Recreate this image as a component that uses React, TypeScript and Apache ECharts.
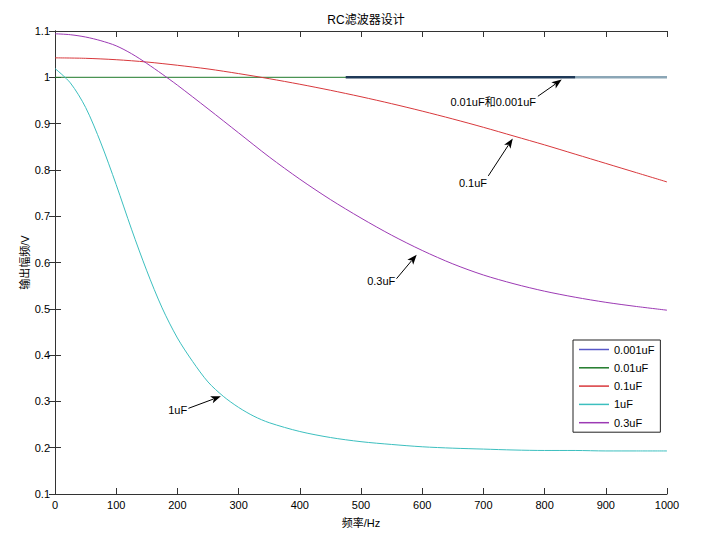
import React, { useEffect, useRef } from "react";
import * as echarts from "echarts";

const title = "RC滤波器设计";
const xName = "频率/Hz";
const yName = "输出幅频/V";

const seriesNames = ["0.001uF", "0.01uF", "0.1uF", "1uF", "0.3uF"];

// 0.1uF sampled every 50 Hz
const freqA = [0, 50, 100, 150, 200, 250, 300, 350, 400, 450, 500, 550, 600, 650, 700, 750, 800, 850, 900, 950, 1000];
const amp01uF = [1.042, 1.041, 1.038, 1.033, 1.026, 1.018, 1.008, 0.997, 0.985, 0.972, 0.958, 0.943, 0.927, 0.91, 0.892, 0.873, 0.854, 0.834, 0.814, 0.794, 0.774];

// 0.3uF
const freqC = [0, 25, 50, 75, 100, 125, 150, 175, 200, 250, 300, 350, 400, 450, 500, 550, 600, 650, 700, 750, 800, 850, 900, 950, 1000];
const amp03uF = [1.094, 1.092, 1.087, 1.079, 1.068, 1.051, 1.03, 1.007, 0.983, 0.932, 0.88, 0.828, 0.78, 0.736, 0.696, 0.659, 0.626, 0.597, 0.573, 0.554, 0.538, 0.525, 0.514, 0.505, 0.497];

// 1uF
const freqB = [0, 25, 50, 75, 100, 125, 150, 175, 200, 225, 250, 275, 300, 325, 350, 400, 450, 500, 550, 600, 650, 700, 750, 800, 850, 900, 950, 1000];
const amp1uF = [1.019, 0.988, 0.935, 0.858, 0.768, 0.672, 0.582, 0.502, 0.437, 0.386, 0.342, 0.311, 0.287, 0.268, 0.254, 0.235, 0.222, 0.213, 0.207, 0.202, 0.199, 0.197, 0.195, 0.194, 0.194, 0.193, 0.193, 0.193];

// 0.01uF and 0.001uF (flat)
const freq001 = [0, 1000];
const amp001uF = [1, 1];
const freq0001 = [475, 1000];
const amp0001uF = [1, 1];

// annotations: text, arrow start, arrow tip (data coords), text anchor
const annoTexts = ["0.01uF和0.001uF", "0.1uF", "0.3uF", "1uF"];
const annoFrom = [[789, 0.959], [708, 0.787], [558, 0.565], [218, 0.285]];
const annoTo = [[828, 0.995], [748, 0.868], [591, 0.617], [271, 0.311]];
const annoText = [[786, 0.946], [706, 0.772], [556, 0.561], [216, 0.281]];

const colors: Record<string, string> = {
  "0.001uF": "#5858c8",
  "0.01uF": "#1f7a2a",
  "0.1uF": "#d8383c",
  "1uF": "#3cbfbf",
  "0.3uF": "#9c3ab4",
};

const FONT = "'Liberation Sans', Arial, 'Noto Sans CJK SC', sans-serif";

function pairs(xs: number[], ys: number[]) {
  return xs.map((x, i) => [x, ys[i]]);
}

export default function App() {
  const ref = useRef<HTMLDivElement>(null);
  useEffect(() => {
    if (!ref.current) return;
    const chart = echarts.init(ref.current, undefined, { renderer: "svg" });
    const axisLine = { show: true, lineStyle: { color: "#333", width: 1 } };
    const lineSeries = (name: string, data: number[][], color?: any, width = 1, smooth: any = 0.3) => ({
      type: "line",
      name,
      data,
      xAxisIndex: 0,
      yAxisIndex: 0,
      symbol: "none",
      showSymbol: false,
      smooth,
      color: colors[name],
      lineStyle: { color: color || colors[name], width },
      itemStyle: { color: colors[name] },
      emphasis: { disabled: true },
    });
    const option: any = {
      animation: false,
      backgroundColor: "#fff",
      textStyle: { fontFamily: FONT },
      title: {
        text: title,
        left: 361,
        top: 9,
        textAlign: "center",
        textStyle: { fontSize: 12, fontWeight: "normal", color: "#000", fontFamily: FONT },
      },
      grid: { left: 55, right: 34, top: 31, bottom: 32, containLabel: false },
      legend: {
        orient: "vertical",
        left: 573,
        top: 340,
        backgroundColor: "#fff",
        borderColor: "#222",
        borderWidth: 1,
        borderRadius: 0,
        padding: [4, 6, 4, 6],
        icon: "rect",
        itemWidth: 30,
        itemHeight: 1.5,
        itemGap: 7.3,
        textStyle: { fontSize: 11, color: "#000", fontFamily: FONT },
        data: seriesNames.map((n) => ({ name: n, itemStyle: { color: colors[n] } })),
      },
      xAxis: [
        {
          type: "value",
          min: 0,
          max: 1000,
          interval: 100,
          position: "bottom",
          name: xName,
          nameLocation: "middle",
          nameGap: 23,
          nameTextStyle: { fontSize: 11, color: "#000", fontFamily: FONT },
          axisLine,
          axisTick: { show: true, inside: true, length: 6, lineStyle: { color: "#333" } },
          axisLabel: {
            fontSize: 11,
            color: "#000",
            margin: 5,
            fontFamily: FONT,
            formatter: (v: number) => String(v),
          },
          splitLine: { show: false },
        },
        {
          type: "value",
          min: 0,
          max: 1000,
          interval: 100,
          position: "top",
          axisLine,
          axisTick: { show: true, inside: true, length: 6, lineStyle: { color: "#333" } },
          axisLabel: { show: false },
          splitLine: { show: false },
        },
      ],
      yAxis: [
        {
          type: "value",
          min: 0.1,
          max: 1.1,
          interval: 0.1,
          position: "left",
          name: yName,
          nameLocation: "middle",
          nameGap: 25,
          nameMoveOverlap: false,
          nameTextStyle: { fontSize: 11, color: "#000", fontFamily: FONT },
          axisLine,
          axisTick: { show: true, inside: true, length: 6, lineStyle: { color: "#333" } },
          axisLabel: {
            fontSize: 11,
            color: "#000",
            margin: 5,
            fontFamily: FONT,
            formatter: (v: number) => String(parseFloat(v.toFixed(1))),
          },
          splitLine: { show: false },
        },
        {
          type: "value",
          min: 0.1,
          max: 1.1,
          interval: 0.1,
          position: "right",
          axisLine,
          axisTick: { show: true, inside: true, length: 6, lineStyle: { color: "#333" } },
          axisLabel: { show: false },
          splitLine: { show: false },
        },
      ],
      series: [
        lineSeries("0.01uF", pairs(freq001, amp001uF), undefined, 1, false),
        lineSeries("0.1uF", pairs(freqA, amp01uF)),
        lineSeries("1uF", pairs(freqB, amp1uF)),
        lineSeries("0.3uF", pairs(freqC, amp03uF)),
        lineSeries("0.001uF", pairs(freq0001, amp0001uF), "#24405e", 2, false),
      ],
    };
    chart.setOption(option);

    // two-tone rendering of the 0.001uF line as in the reference (dark, then grey-blue)
    const p0 = chart.convertToPixel({ seriesIndex: 0 }, [freq0001[0], 1]) as number[];
    const p1 = chart.convertToPixel({ seriesIndex: 0 }, [freq0001[1], 1]) as number[];
    const split = (850 - freq0001[0]) / (freq0001[1] - freq0001[0]);
    const grad = new echarts.graphic.LinearGradient(
      p0[0], 0, p1[0], 0,
      [
        { offset: 0, color: "#1f3a58" },
        { offset: split, color: "#1f3a58" },
        { offset: split + 0.001, color: "#8ba6b6" },
        { offset: 1, color: "#8ba6b6" },
      ],
      true
    );

    const graphics: any[] = [];
    for (let i = 0; i < annoTexts.length; i++) {
      const a = chart.convertToPixel({ seriesIndex: 0 }, annoFrom[i]) as number[];
      const b = chart.convertToPixel({ seriesIndex: 0 }, annoTo[i]) as number[];
      const t = chart.convertToPixel({ seriesIndex: 0 }, annoText[i]) as number[];
      const dx = b[0] - a[0];
      const dy = b[1] - a[1];
      const len = Math.sqrt(dx * dx + dy * dy);
      const ux = dx / len;
      const uy = dy / len;
      const hl = 10;
      const hw = 3.8;
      const bx = b[0] - ux * hl;
      const by = b[1] - uy * hl;
      graphics.push({
        type: "line",
        silent: true,
        shape: { x1: a[0], y1: a[1], x2: bx + ux * 2, y2: by + uy * 2 },
        style: { stroke: "#000", lineWidth: 1 },
        z: 100,
      });
      graphics.push({
        type: "polygon",
        silent: true,
        shape: {
          points: [
            [b[0], b[1]],
            [bx - uy * hw, by + ux * hw],
            [b[0] - ux * hl * 0.75, b[1] - uy * hl * 0.75],
            [bx + uy * hw, by - ux * hw],
          ],
        },
        style: { fill: "#000" },
        z: 100,
      });
      graphics.push({
        type: "text",
        silent: true,
        x: t[0],
        y: t[1],
        style: {
          text: annoTexts[i],
          fill: "#000",
          fontSize: 11,
          fontFamily: FONT,
          align: "right",
          verticalAlign: "middle",
        },
        z: 100,
      });
    }
    chart.setOption({
      graphic: graphics,
      series: [{}, {}, {}, {}, { lineStyle: { color: grad, width: 2.5 } }],
    });

    return () => chart.dispose();
  }, []);
  return (
    <div
      ref={ref}
      style={{ position: "fixed", left: 0, top: 0, width: 701, height: 533, background: "#fff" }}
    />
  );
}
